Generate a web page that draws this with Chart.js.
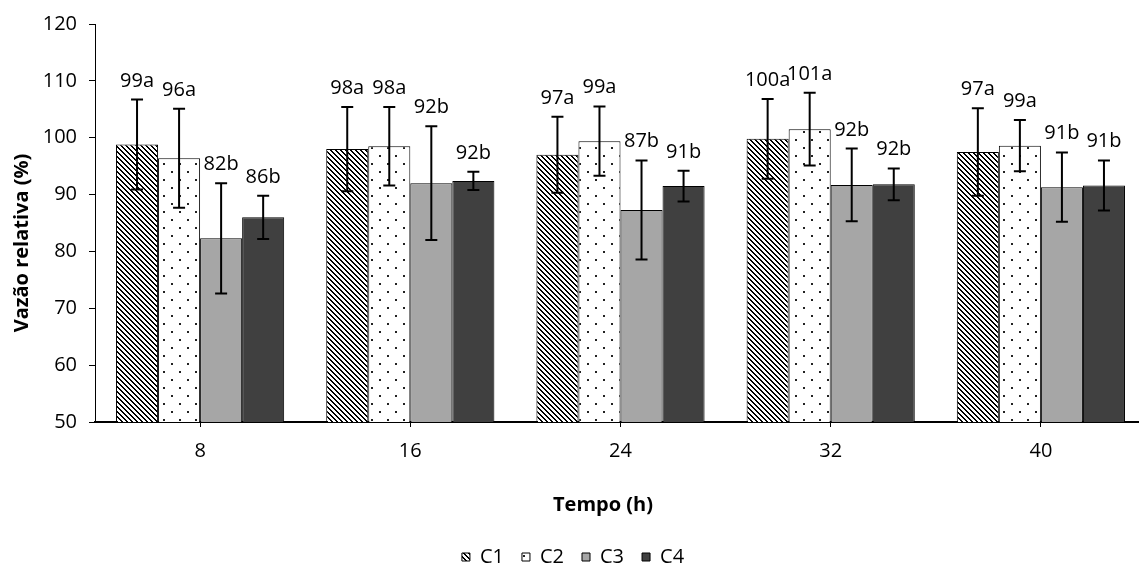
<!DOCTYPE html>
<html>
<head>
<meta charset="utf-8">
<title>Vazão relativa</title>
<script src="https://cdn.jsdelivr.net/npm/chart.js@4.4.1/dist/chart.umd.min.js"></script>
<style>
  html, body { margin: 0; padding: 0; background: #fff; overflow: hidden; }
  #wrap { position: relative; width: 1150px; height: 577px; }
</style>
</head>
<body>
<div id="wrap"><canvas id="chart"></canvas></div>
<script>
// Tempo (h)
const tempos = ['8', '16', '24', '32', '40'];

// mean relative flow (%) per treatment
const c1 = [98.8, 98.0, 97.0, 99.8, 97.5];
const c2 = [96.4, 98.5, 99.4, 101.5, 98.6];
const c3 = [82.3, 92.0, 87.3, 91.7, 91.3];
const c4 = [86.0, 92.4, 91.5, 91.8, 91.6];

// error bar half-lengths
const e1 = [7.9, 7.4, 6.7, 7.0, 7.7];
const e2 = [8.7, 6.9, 6.1, 6.4, 4.5];
const e3 = [9.7, 10.0, 8.7, 6.4, 6.1];
const e4 = [3.8, 1.6, 2.7, 2.8, 4.4];

// labels written over each bar
const l1 = ['99a', '98a', '97a', '100a', '97a'];
const l2 = ['96a', '98a', '99a', '101a', '99a'];
const l3 = ['82b', '92b', '87b', '92b', '91b'];
const l4 = ['86b', '92b', '91b', '92b', '91b'];

const yTicks = [50, 60, 70, 80, 90, 100, 110, 120];

const FONT = "'Open Sans', sans-serif";

function hatchPattern() {
    const c = document.createElement('canvas');
    c.width = 5; c.height = 5;
    const g = c.getContext('2d');
    g.fillStyle = '#fff';
    g.fillRect(0, 0, 5, 5);
    g.fillStyle = '#000';
    for (let i = 0; i < 5; i++) {
        g.fillRect(i, i, 1, 1);
        g.fillRect((i + 1) % 5, i, 1, 1);
    }
    return g.createPattern(c, 'repeat');
}

function dotPattern() {
    const c = document.createElement('canvas');
    c.width = 16; c.height = 16;
    const g = c.getContext('2d');
    g.fillStyle = '#fff';
    g.fillRect(0, 0, 16, 16);
    g.fillStyle = '#222';
    g.fillRect(3, 3, 2, 2);
    g.fillRect(11, 11, 2, 2);
    return g.createPattern(c, 'repeat');
}

// error bars, letters above them, and the two axis titles
const errorBarsAndLabels = {
    id: 'errorBarsAndLabels',
    afterDatasetsDraw(chart) {
        const ctx = chart.ctx;
        const y = chart.scales.y;
        chart.data.datasets.forEach((ds, di) => {
            const meta = chart.getDatasetMeta(di);
            meta.data.forEach((bar, i) => {
                const v = ds.data[i];
                const e = ds.errors[i];
                const yTop = y.getPixelForValue(v + e);
                const yBot = y.getPixelForValue(v - e);
                ctx.save();
                ctx.strokeStyle = '#000';
                ctx.lineWidth = 2;
                ctx.beginPath();
                ctx.moveTo(bar.x, yTop); ctx.lineTo(bar.x, yBot);
                ctx.moveTo(bar.x - 6, yTop); ctx.lineTo(bar.x + 6, yTop);
                ctx.moveTo(bar.x - 6, yBot); ctx.lineTo(bar.x + 6, yBot);
                ctx.stroke();
                ctx.fillStyle = '#000';
                ctx.font = '20px ' + FONT;
                ctx.textAlign = 'center';
                ctx.textBaseline = 'alphabetic';
                ctx.fillText(ds.letters[i], bar.x, yTop - 13);
                ctx.restore();
            });
        });
    },
    afterDraw(chart) {
        const ctx = chart.ctx;
        ctx.save();
        ctx.fillStyle = '#000';
        ctx.font = 'bold 20px ' + FONT;
        ctx.textAlign = 'center';
        ctx.textBaseline = 'middle';
        ctx.fillText('Tempo (h)', 603, 505);
        ctx.translate(22, 243);
        ctx.rotate(-Math.PI / 2);
        ctx.fillText('Vazão relativa (%)', 0, 0);
        ctx.restore();
    }
};

Chart.defaults.font.family = FONT;
Chart.defaults.font.size = 20;
Chart.defaults.color = '#000';

const ctx = document.getElementById('chart').getContext('2d');
const chart = new Chart(ctx, {
    type: 'bar',
    data: {
        labels: tempos,
        datasets: [
            { label: 'C1', data: c1, errors: e1, letters: l1, backgroundColor: hatchPattern() },
            { label: 'C2', data: c2, errors: e2, letters: l2, backgroundColor: dotPattern() },
            { label: 'C3', data: c3, errors: e3, letters: l3, backgroundColor: '#a6a6a6' },
            { label: 'C4', data: c4, errors: e4, letters: l4, backgroundColor: '#404040' }
        ].map(ds => Object.assign(ds, {
            borderColor: '#000',
            borderWidth: 1,
            categoryPercentage: 0.8,
            barPercentage: 1.0
        }))
    },
    options: {
        responsive: true,
        maintainAspectRatio: false,
        animation: false,
        layout: { padding: { top: 22, right: 4, left: 0, bottom: 0 } },
        plugins: {
            tooltip: { enabled: false },
            legend: {
                display: true,
                position: 'bottom',
                labels: { boxWidth: 8, boxHeight: 8, padding: 18, color: '#000' }
            }
        },
        scales: {
            x: {
                grid: { drawOnChartArea: false, offset: false, color: '#000', tickLength: 5 },
                border: { color: '#000', width: 2 },
                ticks: { padding: 12 },
                afterFit: s => { s.height = 107; }
            },
            y: {
                min: 50,
                max: 120,
                afterBuildTicks: s => { s.ticks = yTicks.map(v => ({ value: v })); },
                grid: { drawOnChartArea: false, color: '#000', tickLength: 6 },
                border: { color: '#000', width: 1 },
                ticks: { padding: 12 },
                afterFit: s => { s.width = 95; }
            }
        }
    },
    plugins: [errorBarsAndLabels]
});
</script>
</body>
</html>
